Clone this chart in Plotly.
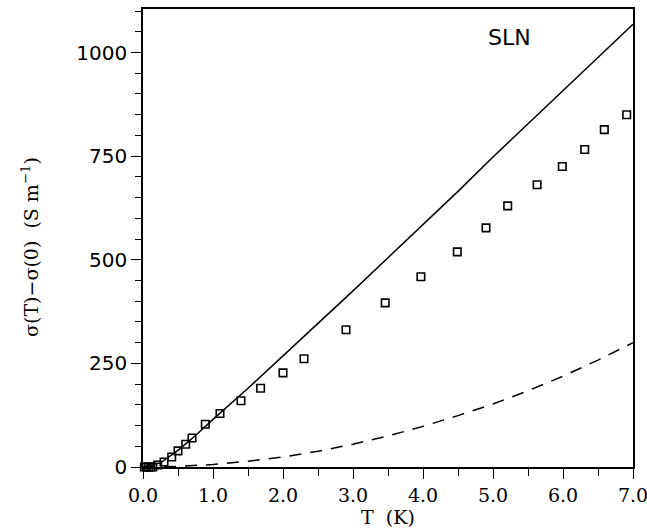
import plotly.graph_objects as go

# Measured data (open squares)
T_data = [0.02, 0.05, 0.08, 0.11, 0.14, 0.21, 0.30, 0.41, 0.50, 0.61, 0.70, 0.89, 1.10,
          1.40, 1.68, 2.00, 2.30, 2.90, 3.46, 3.97, 4.49, 4.90, 5.21, 5.63, 5.99, 6.31, 6.59, 6.91]
sig_data = [0, 0, 0, 0, 0, 5, 12, 24, 39, 55, 70, 103, 129,
            160, 190, 227, 261, 331, 396, 459, 519, 577, 630, 681, 725, 766, 814, 850]

# Solid theory curve
T_solid = [0.0, 0.25, 0.5, 0.75, 1.0, 1.5, 2.0, 2.5, 3.0, 3.5, 4.0, 4.5, 5.0, 5.5, 6.0, 6.5, 7.0]
sig_solid = [0, 10, 40, 76, 115, 190, 268, 346, 425, 505, 585, 665, 748, 828, 908, 988, 1068]

# Dashed curve
T_dash = [0.0, 0.5, 1.0, 1.5, 2.0, 2.5, 3.0, 3.5, 4.0, 4.5, 5.0, 5.5, 6.0, 6.5, 7.0]
sig_dash = [0, 1.5, 6, 14, 24, 38, 55, 75, 98, 124, 152, 184, 219, 258, 300]

x_ticks = [0, 1, 2, 3, 4, 5, 6, 7]
y_ticks = [0, 250, 500, 750, 1000]

fig = go.Figure()
fig.add_trace(go.Scatter(x=T_solid, y=sig_solid, mode="lines",
                         line=dict(color="black", width=1.5), showlegend=False))
fig.add_trace(go.Scatter(x=T_dash, y=sig_dash, mode="lines",
                         line=dict(color="black", width=1.5, dash="12px,9px"), showlegend=False))
fig.add_trace(go.Scatter(x=T_data, y=sig_data, mode="markers",
                         marker=dict(symbol="square-open", size=7.5, color="black",
                                     line=dict(width=1.6, color="black")),
                         showlegend=False, cliponaxis=False))

serif = "DejaVu Serif, serif"
sans = "DejaVu Sans, sans-serif"

fig.update_layout(
    width=647, height=529,
    margin=dict(l=143, r=14, t=9, b=62),
    paper_bgcolor="white", plot_bgcolor="white",
    xaxis=dict(range=[0, 7], tickvals=x_ticks, ticktext=[f"{v:.1f}" for v in x_ticks],
               automargin=False, ticklabeloverflow="allow",
               showline=True, linecolor="black", linewidth=1.5, mirror=True,
               ticks="outside", ticklen=10, tickwidth=1.4, tickcolor="black",
               minor=dict(dtick=0.5, ticks="outside", ticklen=7, tickwidth=1.3, tickcolor="black"),
               showgrid=False, zeroline=False,
               tickfont=dict(family=serif, size=19, color="black"),
               title=dict(text="T  (K)", font=dict(family=serif, size=19, color="black"), standoff=2)),
    yaxis=dict(range=[0, 1105], tickvals=y_ticks, automargin=False, ticklabeloverflow="allow",
               showline=True, linecolor="black", linewidth=1.5, mirror=True,
               ticks="outside", ticklen=10, tickwidth=1.3, tickcolor="black",
               minor=dict(dtick=50, ticks="outside", ticklen=6, tickwidth=1.2, tickcolor="black"),
               showgrid=False, zeroline=False,
               tickfont=dict(family=sans, size=20, color="black")),
    annotations=[
        dict(text="SLN", x=5.24, y=1036, xref="x", yref="y", showarrow=False,
             font=dict(family=sans, size=22, color="black")),
        dict(text="σ(T)−σ(0)  (S m<sup>−1</sup>)", x=-0.231, y=0.48, xref="paper", yref="paper",
             xanchor="center", yanchor="middle",
             textangle=-90, showarrow=False,
             font=dict(family=serif, size=19, color="black")),
    ],
)

fig.write_html("out.html")
